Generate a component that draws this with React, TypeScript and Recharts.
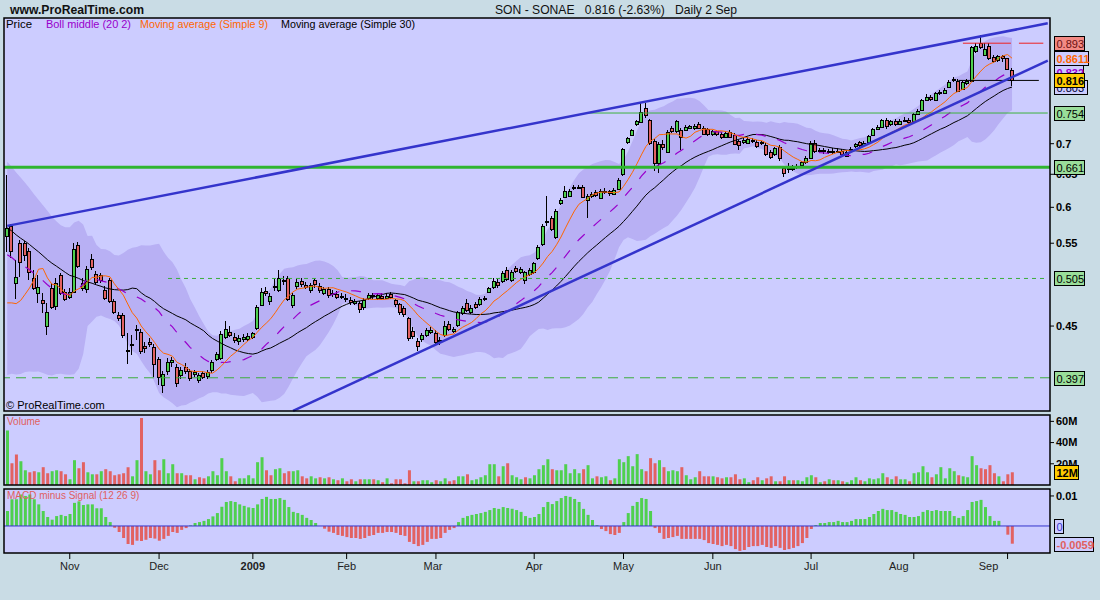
import React from 'react'
import {
  ComposedChart, Bar, Line, Area, XAxis, YAxis, ReferenceLine, Cell,
} from 'recharts'

type Ohlc = [number, number, number, number]

// closes of the sessions just before the visible window (estimated, only used to warm up the averages)
const priorCloses = [
  0.672, 0.668, 0.660, 0.655, 0.648, 0.640, 0.635, 0.628, 0.620, 0.604,
  0.612, 0.605, 0.598, 0.600, 0.590, 0.585, 0.578, 0.570, 0.565, 0.560, 0.553,
  0.540, 0.515, 0.492, 0.470, 0.445, 0.405, 0.378, 0.468,
]

// daily candles [open, high, low, close]
const oct08: Ohlc[] = [
  [0.560, 0.649, 0.539, 0.571], [0.573, 0.576, 0.531, 0.540], [0.499, 0.528, 0.481, 0.507],
  [0.550, 0.554, 0.507, 0.525], [0.550, 0.553, 0.527, 0.535], [0.540, 0.544, 0.503, 0.513],
  [0.505, 0.516, 0.491, 0.494], [0.488, 0.509, 0.476, 0.495], [0.479, 0.488, 0.464, 0.476],
  [0.450, 0.476, 0.440, 0.466], [0.494, 0.500, 0.469, 0.471], [0.472, 0.505, 0.468, 0.500],
  [0.509, 0.512, 0.485, 0.487], [0.489, 0.492, 0.478, 0.481],
]
const nov08: Ohlc[] = [
  [0.483, 0.493, 0.480, 0.489], [0.489, 0.550, 0.487, 0.543], [0.547, 0.551, 0.518, 0.520],
  [0.494, 0.505, 0.490, 0.500], [0.492, 0.520, 0.488, 0.517], [0.530, 0.536, 0.515, 0.519],
  [0.510, 0.514, 0.498, 0.501], [0.509, 0.512, 0.499, 0.503], [0.491, 0.496, 0.479, 0.482],
  [0.503, 0.506, 0.476, 0.478], [0.478, 0.481, 0.463, 0.466], [0.462, 0.466, 0.455, 0.459],
  [0.462, 0.465, 0.437, 0.440], [0.425, 0.442, 0.410, 0.4235], [0.430, 0.440, 0.420, 0.431],
  [0.446, 0.451, 0.435, 0.447], [0.444, 0.447, 0.421, 0.424], [0.429, 0.433, 0.422, 0.427],
  [0.433, 0.437, 0.428, 0.431], [0.428, 0.431, 0.398, 0.410],
]
const dec08: Ohlc[] = [
  [0.415, 0.418, 0.390, 0.398], [0.390, 0.404, 0.383, 0.401], [0.4036, 0.416, 0.400, 0.4126],
  [0.412, 0.417, 0.408, 0.414], [0.408, 0.410, 0.388, 0.392], [0.400, 0.408, 0.396, 0.405],
  [0.408, 0.411, 0.401, 0.404], [0.404, 0.406, 0.394, 0.397], [0.401, 0.405, 0.398, 0.403],
  [0.395, 0.402, 0.392, 0.3995], [0.402, 0.404, 0.396, 0.398], [0.3985, 0.405, 0.396, 0.403],
  [0.4045, 0.414, 0.402, 0.412], [0.415, 0.423, 0.413, 0.421], [0.416, 0.445, 0.414, 0.441],
  [0.438, 0.4557, 0.436, 0.4465], [0.444, 0.450, 0.438, 0.440], [0.438, 0.442, 0.432, 0.4355],
  [0.434, 0.440, 0.430, 0.437], [0.436, 0.441, 0.433, 0.438], [0.436, 0.442, 0.434, 0.439],
]
const jan09: Ohlc[] = [
  [0.4385, 0.444, 0.436, 0.442], [0.448, 0.474, 0.446, 0.4715], [0.474, 0.494, 0.472, 0.4885],
  [0.490, 0.495, 0.484, 0.487], [0.478, 0.488, 0.474, 0.484], [0.4945, 0.505, 0.490, 0.4955],
  [0.491, 0.516, 0.489, 0.505], [0.503, 0.508, 0.497, 0.502], [0.505, 0.508, 0.478, 0.481],
  [0.4735, 0.488, 0.470, 0.4856], [0.4953, 0.504, 0.492, 0.5005], [0.502, 0.506, 0.495, 0.498],
  [0.497, 0.501, 0.492, 0.495], [0.491, 0.500, 0.488, 0.4965], [0.5035, 0.506, 0.494, 0.498],
  [0.496, 0.499, 0.488, 0.491], [0.4875, 0.495, 0.485, 0.492], [0.4925, 0.495, 0.482, 0.485],
  [0.486, 0.491, 0.483, 0.488], [0.4866, 0.490, 0.480, 0.4832], [0.483, 0.487, 0.480, 0.4838],
]
const feb09: Ohlc[] = [
  [0.482, 0.486, 0.477, 0.480], [0.4798, 0.483, 0.474, 0.4766], [0.476, 0.481, 0.473, 0.478],
  [0.4755, 0.478, 0.465, 0.469], [0.4708, 0.482, 0.468, 0.4794], [0.4816, 0.488, 0.479, 0.4855],
  [0.4848, 0.488, 0.481, 0.4843], [0.4815, 0.487, 0.479, 0.4848], [0.4845, 0.487, 0.479, 0.4812],
  [0.4822, 0.487, 0.480, 0.4845], [0.4865, 0.489, 0.480, 0.4826], [0.4794, 0.481, 0.471, 0.4744],
  [0.4747, 0.476, 0.462, 0.4652], [0.4698, 0.472, 0.460, 0.4635], [0.4585, 0.460, 0.434, 0.4368],
  [0.4444, 0.449, 0.436, 0.439], [0.4341, 0.437, 0.424, 0.4292], [0.436, 0.443, 0.433, 0.4404],
  [0.4404, 0.448, 0.438, 0.4455], [0.4434, 0.449, 0.441, 0.4458],
]
const mar09: Ohlc[] = [
  [0.4430, 0.446, 0.431, 0.4334], [0.4345, 0.438, 0.430, 0.4351], [0.4404, 0.455, 0.438, 0.4503],
  [0.4518, 0.455, 0.445, 0.4468], [0.4446, 0.449, 0.442, 0.4466], [0.4516, 0.467, 0.449, 0.4654],
  [0.4643, 0.472, 0.462, 0.4704], [0.4753, 0.481, 0.466, 0.4679], [0.4655, 0.473, 0.463, 0.4704],
  [0.4742, 0.477, 0.469, 0.4709], [0.4742, 0.483, 0.472, 0.4810], [0.4802, 0.484, 0.478, 0.4821],
  [0.4888, 0.495, 0.487, 0.4929], [0.4943, 0.505, 0.492, 0.5021], [0.5008, 0.504, 0.494, 0.4967],
  [0.5021, 0.514, 0.500, 0.5117], [0.5155, 0.519, 0.502, 0.5049], [0.5031, 0.515, 0.501, 0.5126],
  [0.5178, 0.521, 0.512, 0.5145], [0.5134, 0.519, 0.511, 0.5167], [0.5035, 0.514, 0.498, 0.5125],
  [0.5105, 0.518, 0.508, 0.5150],
]
const apr09: Ohlc[] = [
  [0.5134, 0.526, 0.511, 0.5238], [0.5302, 0.547, 0.528, 0.5446], [0.5486, 0.576, 0.546, 0.5735],
  [0.579, 0.616, 0.573, 0.5805], [0.5852, 0.588, 0.567, 0.5697], [0.5589, 0.598, 0.556, 0.5951],
  [0.6068, 0.613, 0.604, 0.6108], [0.6152, 0.632, 0.613, 0.6238], [0.6172, 0.627, 0.615, 0.6248],
  [0.629, 0.633, 0.626, 0.6300], [0.6295, 0.634, 0.627, 0.631], [0.631, 0.633, 0.613, 0.6152],
  [0.6108, 0.619, 0.585, 0.6161], [0.6160, 0.623, 0.614, 0.6200], [0.6230, 0.626, 0.615, 0.6175],
  [0.6138, 0.627, 0.612, 0.6238], [0.6225, 0.628, 0.620, 0.6245], [0.6235, 0.626, 0.616, 0.6210],
  [0.6200, 0.629, 0.618, 0.6258], [0.6267, 0.644, 0.625, 0.6411],
]
const may09: Ohlc[] = [
  [0.6505, 0.693, 0.648, 0.6910], [0.7034, 0.712, 0.700, 0.7092], [0.7155, 0.726, 0.713, 0.7242],
  [0.7340, 0.741, 0.731, 0.7387], [0.7383, 0.7738, 0.736, 0.7560], [0.7633, 0.772, 0.745, 0.7497],
  [0.7405, 0.744, 0.698, 0.7013], [0.7042, 0.708, 0.655, 0.6685], [0.6675, 0.703, 0.6515, 0.7003],
  [0.7003, 0.706, 0.690, 0.6946], [0.6866, 0.723, 0.684, 0.7200], [0.7264, 0.731, 0.718, 0.7211],
  [0.7215, 0.742, 0.719, 0.7390], [0.724, 0.728, 0.690, 0.712], [0.7237, 0.732, 0.721, 0.7292],
  [0.7280, 0.733, 0.725, 0.7300], [0.7265, 0.735, 0.724, 0.7305], [0.7345, 0.738, 0.726, 0.7280],
  [0.7280, 0.731, 0.715, 0.7175], [0.7245, 0.727, 0.714, 0.7160],
]
const jun09: Ohlc[] = [
  [0.7170, 0.724, 0.713, 0.7210], [0.7210, 0.724, 0.713, 0.7160], [0.7160, 0.720, 0.708, 0.7110],
  [0.7120, 0.721, 0.709, 0.7180], [0.7198, 0.723, 0.709, 0.7120], [0.7150, 0.718, 0.697, 0.6995],
  [0.7040, 0.707, 0.690, 0.6985], [0.7030, 0.709, 0.700, 0.7060], [0.7010, 0.711, 0.699, 0.7075],
  [0.7055, 0.709, 0.701, 0.7045], [0.7035, 0.706, 0.693, 0.6960], [0.7015, 0.705, 0.698, 0.7030],
  [0.6985, 0.701, 0.679, 0.6825], [0.6865, 0.689, 0.674, 0.6775], [0.6825, 0.695, 0.679, 0.6920],
  [0.6945, 0.697, 0.672, 0.6760], [0.6595, 0.663, 0.645, 0.6515], [0.6600, 0.668, 0.652, 0.6605],
  [0.6600, 0.664, 0.655, 0.6595], [0.6620, 0.667, 0.658, 0.6630], [0.6650, 0.672, 0.662, 0.6690],
  [0.6690, 0.679, 0.667, 0.6755],
]
const jul09: Ohlc[] = [
  [0.6755, 0.705, 0.674, 0.7020], [0.7020, 0.707, 0.685, 0.6880], [0.6875, 0.693, 0.684, 0.6890],
  [0.6890, 0.692, 0.683, 0.6870], [0.6865, 0.691, 0.683, 0.6880], [0.6880, 0.692, 0.682, 0.6860],
  [0.6860, 0.692, 0.684, 0.6885], [0.6880, 0.691, 0.680, 0.6835], [0.6800, 0.689, 0.677, 0.6865],
  [0.6905, 0.695, 0.687, 0.6915], [0.6955, 0.702, 0.693, 0.6995], [0.7025, 0.705, 0.695, 0.6980],
  [0.6985, 0.704, 0.696, 0.7010], [0.7025, 0.715, 0.700, 0.7125], [0.7150, 0.728, 0.713, 0.7250],
  [0.7255, 0.732, 0.723, 0.7285], [0.7290, 0.744, 0.727, 0.7410], [0.7410, 0.745, 0.726, 0.7300],
  [0.7335, 0.742, 0.731, 0.7390], [0.7390, 0.743, 0.731, 0.7335], [0.7345, 0.743, 0.732, 0.7400],
  [0.7400, 0.746, 0.737, 0.7420], [0.7414, 0.745, 0.735, 0.7378],
]
const aug09: Ohlc[] = [
  [0.7395, 0.754, 0.737, 0.7520], [0.7520, 0.761, 0.750, 0.7580], [0.7590, 0.781, 0.757, 0.7780],
  [0.7782, 0.790, 0.776, 0.7845], [0.7830, 0.788, 0.776, 0.7810], [0.7782, 0.794, 0.776, 0.7910],
  [0.7910, 0.797, 0.787, 0.7930], [0.7920, 0.801, 0.790, 0.7980], [0.8040, 0.816, 0.802, 0.8130],
  [0.8170, 0.822, 0.812, 0.8190], [0.8150, 0.819, 0.793, 0.7960], [0.8000, 0.815, 0.797, 0.8130],
  [0.8105, 0.818, 0.807, 0.8150], [0.8152, 0.888, 0.813, 0.8855], [0.8763, 0.893, 0.872, 0.8876],
  [0.8930, 0.911, 0.880, 0.8840], [0.8680, 0.894, 0.866, 0.8800], [0.8880, 0.893, 0.858, 0.8620],
  [0.8640, 0.868, 0.852, 0.8550], [0.8580, 0.868, 0.854, 0.8655], [0.8660, 0.868, 0.853, 0.8615],
]
const sep09: Ohlc[] = [
  [0.8608, 0.862, 0.836, 0.838], [0.8370, 0.840, 0.8045, 0.816],
]

// volume, millions of shares
const volume = [
  51.4, 20.5, 28.7, 22.4, 13.9, 12.0, 13.0, 12.0, 16.8, 11.1, 13.0, 13.9, 13.0, 10.1,
  5.4, 23.4, 15.8, 21.5, 12.0, 10.1, 10.1, 13.0, 14.9, 13.0, 9.2, 10.1, 11.1, 16.8, 8.2, 23.4, 63.2, 13.0, 10.1, 23.4,
  13.9, 24.3, 11.1, 19.6, 11.1, 11.1, 9.2, 9.2, 5.4, 7.3, 6.3, 8.2, 13.0, 9.2, 25.3, 13.0, 8.2, 3.5, 6.3, 6.3, 9.2,
  6.3, 21.5, 26.2, 13.9, 9.2, 14.9, 15.8, 11.1, 13.0, 13.0, 13.9, 8.2, 6.3, 8.2, 6.3, 7.3, 6.3, 7.3, 5.4, 4.5, 6.3,
  3.5, 5.4, 3.5, 5.4, 5.4, 5.4, 5.4, 4.5, 2.6, 6.3, 1.6, 5.4, 5.4, 1.6, 13.9, 3.5, 3.5, 4.5, 4.5, 2.6,
  4.5, 3.5, 6.3, 3.5, 4.5, 8.2, 8.2, 10.1, 4.5, 5.4, 7.3, 9.2, 19.6, 19.6, 8.2, 17.7, 20.5, 9.2, 7.3, 5.4, 7.3, 6.3,
  9.2, 14.9, 18.7, 24.3, 14.9, 13.9, 13.9, 19.6, 11.1, 14.9, 11.1, 14.9, 18.7, 6.3, 8.2, 7.3, 8.2, 4.5, 6.3, 24.3,
  21.5, 27.2, 17.7, 29.1, 14.9, 13.0, 25.3, 20.5, 23.4, 16.8, 13.0, 13.9, 13.0, 16.8, 9.2, 5.4, 7.3, 13.0, 8.2, 8.2,
  8.2, 7.3, 6.3, 7.3, 7.3, 10.1, 5.4, 6.3, 2.6, 4.5, 7.3, 4.5, 6.3, 8.2, 3.5, 3.5, 8.2, 4.5, 4.5, 4.5, 3.5, 7.3,
  9.2, 7.3, 2.6, 3.5, 5.4, 4.5, 4.5, 3.5, 2.6, 4.5, 7.3, 4.5, 3.5, 6.3, 5.4, 6.3, 11.1, 7.3, 5.4, 8.2, 5.4, 5.4, 3.5,
  11.1, 12.0, 17.7, 12.0, 7.3, 10.1, 16.8, 6.3, 15.8, 13.0, 9.2, 8.2, 7.3, 27.2, 18.7, 15.8, 14.9, 18.7, 11.1, 8.2, 3.5,
  10.1, 12.0,
]

// MACD minus signal (12 26 9)
const macdHist = [
  0.0050, 0.0089, 0.0089, 0.0105, 0.0100, 0.0105, 0.0089, 0.0072, 0.0050, 0.0030, 0.0021, 0.0033, 0.0037, 0.0033,
  0.0040, 0.0077, 0.0082, 0.0070, 0.0072, 0.0072, 0.0059, 0.0059, 0.0030, 0.0013, -0.0006, -0.0020, -0.0040, -0.0060, -0.0063, -0.0049, -0.0050, -0.0046, -0.0040, -0.0042,
  -0.0049, -0.0043, -0.0033, -0.0020, -0.0023, -0.0013, -0.0007, 0.0002, 0.0010, 0.0013, 0.0017, 0.0023, 0.0032, 0.0043, 0.0064, 0.0080, 0.0083, 0.0080, 0.0072, 0.0067, 0.0062,
  0.0060, 0.0072, 0.0090, 0.0097, 0.0090, 0.0090, 0.0093, 0.0087, 0.0063, 0.0047, 0.0043, 0.0037, 0.0027, 0.0020, 0.0010, 0.0000, -0.0009, -0.0019, -0.0023, -0.0030, -0.0033,
  -0.0037, -0.0040, -0.0040, -0.0043, -0.0040, -0.0033, -0.0030, -0.0023, -0.0023, -0.0020, -0.0020, -0.0023, -0.0030, -0.0033, -0.0053, -0.0060, -0.0067, -0.0063, -0.0053, -0.0043,
  -0.0043, -0.0040, -0.0023, -0.0013, -0.0007, 0.0013, 0.0027, 0.0033, 0.0037, 0.0040, 0.0043, 0.0047, 0.0053, 0.0060, 0.0057, 0.0063, 0.0060, 0.0057, 0.0053, 0.0047, 0.0033, 0.0027,
  0.0030, 0.0040, 0.0063, 0.0080, 0.0073, 0.0083, 0.0093, 0.0100, 0.0097, 0.0090, 0.0080, 0.0057, 0.0037, 0.0020, 0.0003, -0.0010, -0.0017, -0.0027, -0.0030, -0.0023,
  0.0013, 0.0043, 0.0067, 0.0080, 0.0093, 0.0090, 0.0050, -0.0007, -0.0023, -0.0043, -0.0040, -0.0037, -0.0033, -0.0043, -0.0043, -0.0043, -0.0043, -0.0043, -0.0047, -0.0057,
  -0.0060, -0.0063, -0.0067, -0.0063, -0.0067, -0.0077, -0.0083, -0.0080, -0.0070, -0.0067, -0.0067, -0.0063, -0.0070, -0.0073, -0.0067, -0.0073, -0.0080, -0.0077, -0.0073, -0.0067, -0.0057, -0.0040,
  -0.0010, 0.0003, 0.0010, 0.0010, 0.0013, 0.0013, 0.0017, 0.0013, 0.0013, 0.0017, 0.0023, 0.0023, 0.0023, 0.0030, 0.0040, 0.0050, 0.0057, 0.0053, 0.0053, 0.0047, 0.0040, 0.0037, 0.0030,
  0.0030, 0.0033, 0.0047, 0.0053, 0.0050, 0.0053, 0.0050, 0.0050, 0.0050, 0.0033, 0.0027, 0.0033, 0.0053, 0.0080, 0.0083, 0.0087, 0.0063, 0.0033, 0.0017, 0.0017, 0.0000,
  -0.0029, -0.0059,
]

const monthStarts = [14, 34, 55, 76, 96, 118, 138, 158, 180, 203, 224]
const monthNames = ['Nov', 'Dec', '2009', 'Feb', 'Mar', 'Apr', 'May', 'Jun', 'Jul', 'Aug', 'Sep']
// the last two month names sit a little left of their tick in the original
const monthNameShift = [0, 0, 0, 0, -3, 0, 0, 0, 0, -15, -19]

// price ticks not hidden behind a value box
const priceTicks = [0.45, 0.55, 0.6, 0.65, 0.7]
const volumeTicks = [20, 40, 60]
const macdTicks = [0.01]

// hand drawn lines: [session index, price]
const upperTrend = [[0, 0.5736], [233, 0.937]]
const lowerTrend = [[64, 0.3665], [233, 0.8561]]

const GREEN = '#4fd04f'
const RED = '#e26262'
const PANEL = '#ccccff'
const BAND = '#b8b0f4'
const EMPTY_SLOTS = 8
const FONT = 'Liberation Sans, Arial, sans-serif'

const candles = [...oct08, ...nov08, ...dec08, ...jan09, ...feb09, ...mar09, ...apr09, ...may09, ...jun09, ...jul09, ...aug09, ...sep09]
const closes = candles.map(c => c[3])
const history = [...priorCloses, ...closes]
const W = priorCloses.length

const windowOf = (i: number, n: number) => history.slice(W + i - n + 1, W + i + 1)
const mean = (a: number[]) => a.reduce((s, v) => s + v, 0) / a.length

const rows = Array.from({ length: candles.length + EMPTY_SLOTS }, (_, i) => {
  if (i >= candles.length) return { i }
  const [o, h, l, c] = candles[i]
  const w20 = windowOf(i, 20)
  const m20 = mean(w20)
  const sd = Math.sqrt(mean(w20.map(v => (v - m20) ** 2)))
  const prev = history[W + i - 1]
  return {
    i, o, h, l, c,
    ma9: mean(windowOf(i, 9)),
    ma20: m20,
    ma30: mean(windowOf(i, 30)),
    band: [m20 - 2 * sd, m20 + 2 * sd],
    v: volume[i],
    volUp: c >= prev,
    m: macdHist[i],
  }
})

const last = rows[candles.length - 1] as any

function Candle(props: any) {
  const { x, y, width, height, payload } = props
  if (!payload || payload.o == null) return null
  const { o, h, l, c } = payload
  const top = Math.min(y, y + height)
  const span = Math.abs(height)
  const lh = Math.log(h)
  const ll = Math.log(l)
  const py = (v: number) => top + ((lh - Math.log(v)) / (lh - ll)) * span
  const cx = Math.round(x + width / 2)
  const yo = py(o)
  const yc = py(c)
  const bt = Math.round(Math.min(yo, yc)) + 0.5
  const bb = Math.round(Math.max(yo, yc)) + 0.5
  return (
    <g shapeRendering="crispEdges">
      <line x1={cx - 0.5} x2={cx - 0.5} y1={top} y2={top + span} stroke="#000" strokeWidth={1} />
      <rect x={cx - 1.5} y={bt} width={3} height={Math.max(bb - bt, 1)}
        fill={c >= o ? GREEN : RED} stroke="#000" strokeWidth={1} />
    </g>
  )
}

const boxLabel = (text: string, fill: string, color: string, w: number, bold = false) =>
  (props: any) => {
    const vb = props.viewBox
    const x = vb.x + vb.width + 4.5
    const y = Math.round(vb.y) + 0.5
    return (
      <g>
        <rect x={x} y={y - 7} width={w} height={14} fill={fill} stroke="#000" strokeWidth={1} />
        <text x={x + 2} y={y + 4} fontSize={11} fontWeight={bold ? 'bold' : 'normal'}
          fill={color} fontFamily={FONT}>{text}</text>
      </g>
    )
  }

const axisTick = { fontSize: 11, fontWeight: 'bold' as const, fill: '#000', fontFamily: FONT }

function MonthTick(props: any) {
  const { x, y, payload } = props
  const k = monthStarts.indexOf(payload.value)
  const name = monthNames[k] ?? ''
  return (
    <text x={x + (monthNameShift[k] ?? 0)} y={y + 9} textAnchor="middle" fontSize={11}
      fontWeight={name === '2009' ? 'bold' : 'normal'} fill="#222" fontFamily={FONT}>{name}</text>
  )
}

const xAxisProps = {
  dataKey: 'i',
  type: 'category' as const,
  padding: { left: 1, right: 0 },
}

const priceAxis = {
  orientation: 'right' as const,
  width: 50,
  scale: 'log' as const,
  domain: [0.3663, 0.9492],
  allowDataOverflow: true,
}

export default function App() {
  return (
    <div style={{ position: 'absolute', left: 0, top: 0, width: 1100, height: 600, background: '#c9dce5', overflow: 'hidden' }}>
      <svg width={1100} height={600} style={{ position: 'absolute', left: 0, top: 0 }}>
        <rect x={4} y={18} width={1046} height={393} fill={PANEL} />
        <rect x={4} y={415} width={1046} height={70} fill={PANEL} />
        <rect x={4} y={489} width={1046} height={64} fill={PANEL} />
      </svg>

      {/* price panel */}
      <div style={{ position: 'absolute', left: 0, top: 0 }}>
        <ComposedChart width={1100} height={420} data={rows} margin={{ top: 18, right: 0, bottom: 9, left: 4 }}>
          <XAxis {...xAxisProps} hide />
          <YAxis {...priceAxis} ticks={priceTicks} tick={axisTick} tickFormatter={(v: number) => String(v)}
            axisLine={false} tickLine={{ stroke: '#000' }} tickSize={4} tickMargin={2} interval={0} />
          <Area dataKey="band" fill={BAND} fillOpacity={1} stroke="none" isAnimationActive={false} />
          <Line dataKey="ma30" stroke="#000" strokeWidth={1} dot={false} isAnimationActive={false} />
          <Line dataKey="ma20" stroke="#9900cc" strokeWidth={1.2} strokeDasharray="10 12" dot={false} isAnimationActive={false} />
          <Line dataKey="ma9" stroke="#ff6600" strokeWidth={1} dot={false} isAnimationActive={false} />
          <Bar dataKey={(d: any) => (d.o == null ? undefined : [d.l, d.h])} barSize={4}
            shape={<Candle />} isAnimationActive={false} />
          <ReferenceLine y={0.661} stroke="#2fb52f" strokeWidth={3} ifOverflow="visible" />
          <ReferenceLine segment={[{ x: 130, y: 0.754 }, { x: 233, y: 0.754 }]} stroke="#3cb33c" strokeWidth={1} />
          <ReferenceLine segment={[{ x: 36, y: 0.505 }, { x: 233, y: 0.505 }]} stroke="#3cad3c" strokeDasharray="4 4" />
          <ReferenceLine y={0.397} stroke="#3cad3c" strokeDasharray="10 6" />
          <ReferenceLine segment={[{ x: 214, y: 0.893 }, { x: 232, y: 0.893 }]} stroke="#ee2020" strokeDasharray="48 8" />
          <ReferenceLine segment={[{ x: 213, y: 0.816 }, { x: 231, y: 0.816 }]} stroke="#000" />
          <ReferenceLine segment={upperTrend.map(([x, y]) => ({ x, y }))} stroke="#3434cc" strokeWidth={2.5} ifOverflow="visible" />
          <ReferenceLine segment={lowerTrend.map(([x, y]) => ({ x, y }))} stroke="#3434cc" strokeWidth={2.5} ifOverflow="visible" />
        </ComposedChart>
      </div>

      {/* price value boxes, drawn above the axis ticks */}
      <div style={{ position: 'absolute', left: 0, top: 0 }}>
        <ComposedChart width={1100} height={420} data={rows} margin={{ top: 18, right: 0, bottom: 9, left: 4 }}>
          <XAxis {...xAxisProps} hide />
          <YAxis {...priceAxis} tick={false} tickLine={false} axisLine={false} />
          <ReferenceLine y={last.ma30} stroke="none" label={boxLabel(last.ma30.toFixed(3), PANEL, '#000033', 33)} />
          <ReferenceLine y={last.ma20} stroke="none" label={boxLabel(last.ma20.toFixed(3), PANEL, '#9900cc', 29, true)} />
          <ReferenceLine y={0.893} stroke="none" label={boxLabel('0.893', '#f28a84', '#6a1010', 30)} />
          <ReferenceLine y={last.ma9} stroke="none" label={boxLabel(last.ma9.toFixed(4), PANEL, '#ff6600', 34, true)} />
          <ReferenceLine y={last.c} stroke="none" label={boxLabel(last.c.toFixed(3), '#ffcc00', '#000', 30, true)} />
          <ReferenceLine y={0.754} stroke="none" label={boxLabel('0.754', '#99dd99', '#000', 30)} />
          <ReferenceLine y={0.661} stroke="none" label={boxLabel('0.661', '#99dd99', '#000', 30)} />
          <ReferenceLine y={0.505} stroke="none" label={boxLabel('0.505', '#99dd99', '#000', 30)} />
          <ReferenceLine y={0.397} stroke="none" label={boxLabel('0.397', '#99dd99', '#000', 30)} />
        </ComposedChart>
      </div>

      {/* volume panel */}
      <div style={{ position: 'absolute', left: 0, top: 415 }}>
        <ComposedChart width={1100} height={70} data={rows} margin={{ top: 0, right: 0, bottom: 0, left: 4 }}>
          <XAxis {...xAxisProps} hide />
          <YAxis orientation="right" width={50} domain={[0, 66]} allowDataOverflow ticks={volumeTicks}
            tick={axisTick} tickFormatter={(v: number) => `${v}M`} axisLine={false}
            tickLine={{ stroke: '#000' }} tickSize={4} tickMargin={2} interval={0} />
          <Bar dataKey="v" barSize={3} isAnimationActive={false}>
            {rows.map((r: any) => <Cell key={r.i} fill={r.volUp ? GREEN : RED} />)}
          </Bar>
        </ComposedChart>
      </div>
      <div style={{ position: 'absolute', left: 0, top: 415 }}>
        <ComposedChart width={1100} height={70} data={rows} margin={{ top: 0, right: 0, bottom: 0, left: 4 }}>
          <XAxis {...xAxisProps} hide />
          <YAxis orientation="right" width={50} domain={[0, 66]} allowDataOverflow tick={false} tickLine={false} axisLine={false} />
          <ReferenceLine y={last.v} stroke="none" label={boxLabel(`${Math.round(last.v)}M`, '#ffcc00', '#000', 24, true)} />
        </ComposedChart>
      </div>

      {/* MACD panel */}
      <div style={{ position: 'absolute', left: 0, top: 489 }}>
        <ComposedChart width={1100} height={86} data={rows} margin={{ top: 0, right: 0, bottom: 0, left: 4 }}>
          <XAxis {...xAxisProps} height={22} ticks={monthStarts} interval={0} tick={<MonthTick />}
            axisLine={false} tickLine={{ stroke: '#000' }} tickSize={6} />
          <YAxis orientation="right" width={50} domain={[-0.009, 0.01232]} allowDataOverflow ticks={macdTicks}
            tick={axisTick} tickFormatter={(v: number) => String(v)} axisLine={false}
            tickLine={{ stroke: '#000' }} tickSize={4} tickMargin={2} interval={0} />
          <ReferenceLine y={0} stroke="#3434cc" strokeWidth={1} />
          <Bar dataKey="m" barSize={3} isAnimationActive={false}>
            {rows.map((r: any) => <Cell key={r.i} fill={(r.m ?? 0) >= 0 ? GREEN : RED} />)}
          </Bar>
          <ReferenceLine y={0} stroke="none" label={boxLabel('0', PANEL, '#3434cc', 9)} />
          <ReferenceLine y={last.m} stroke="none" label={boxLabel(last.m.toFixed(4), PANEL, '#e06060', 39, true)} />
        </ComposedChart>
      </div>

      <svg width={1100} height={600} style={{ position: 'absolute', left: 0, top: 0, pointerEvents: 'none' }} fontFamily={FONT}>
        <rect x={4} y={18} width={1046} height={393} fill="none" stroke="#000" strokeWidth={1.5} />
        <rect x={4} y={415} width={1046} height={70} fill="none" stroke="#000" strokeWidth={1.5} />
        <rect x={4} y={489} width={1046} height={64} fill="none" stroke="#000" strokeWidth={1.5} />
        <text x={10} y={14} fontSize={13} fontWeight="bold" fill="#111" textLength={134} lengthAdjust="spacingAndGlyphs">www.ProRealTime.com</text>
        <text x={495} y={14} fontSize={13} fill="#111" textLength={242} lengthAdjust="spacingAndGlyphs" xmlSpace="preserve">SON - SONAE   0.816 (-2.63%)   Daily 2 Sep</text>
        <text x={6} y={28} fontSize={10} fill="#000" textLength={26} lengthAdjust="spacingAndGlyphs">Price</text>
        <text x={46} y={28} fontSize={10} fill="#9900cc" textLength={85} lengthAdjust="spacingAndGlyphs">Boll middle (20 2)</text>
        <text x={140} y={28} fontSize={10} fill="#ff6600" textLength={128} lengthAdjust="spacingAndGlyphs">Moving average (Simple 9)</text>
        <text x={281} y={28} fontSize={10} fill="#000" textLength={134} lengthAdjust="spacingAndGlyphs">Moving average (Simple 30)</text>
        <text x={6} y={409} fontSize={11} fill="#000">© ProRealTime.com</text>
        <text x={7} y={425} fontSize={10} fill="#e06060">Volume</text>
        <text x={7} y={499} fontSize={10} fill="#e06060">MACD minus Signal (12 26 9)</text>
      </svg>
    </div>
  )
}
